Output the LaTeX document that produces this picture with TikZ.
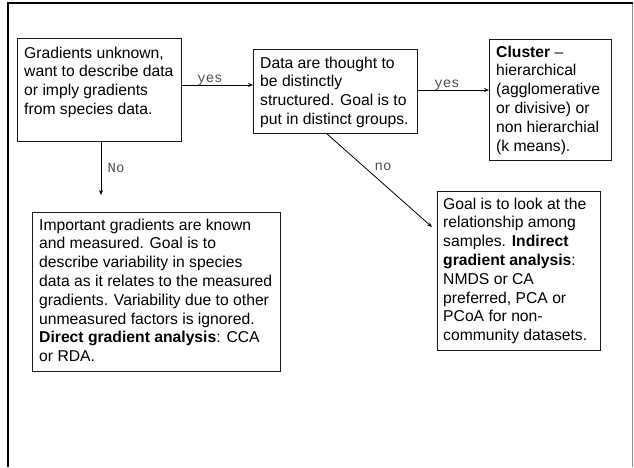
\documentclass[tikz,border=0pt]{standalone}
\usepackage{fontspec}
\setmainfont{Liberation Sans}
\setmonofont{Liberation Mono}
\usetikzlibrary{arrows.meta}
\begin{document}
\begin{tikzpicture}[x=1pt,y=-1pt,
 box/.style={draw=black!90, line width=0.9pt, inner sep=0pt, anchor=north west},
 txt/.style={inner sep=0pt, anchor=north west, align=left, font=\fontsize{15.7}{18.8}\selectfont},
 lab/.style={font=\fontsize{14}{16}\selectfont\ttfamily, text=black!70, inner sep=0pt, anchor=base},
 arr/.style={line width=0.8pt, -{Stealth[length=5pt,width=4pt]}}]
\useasboundingbox (0,0) rectangle (634,467);
\draw[line width=0.6pt, black!45] (632,3) -- (632,467);
\draw[line width=2.5pt] (8,467) -- (8,3) -- (633,3);
% boxes
\node[box, minimum width=164pt, minimum height=103pt] (A) at (17,38) {};
\node[box, minimum width=164pt, minimum height=84pt] (B) at (253,49) {};
\node[box, minimum width=122pt, minimum height=121pt] (C) at (489,39) {};
\node[box, minimum width=163pt, minimum height=159pt] (D) at (437,191) {};
\node[box, minimum width=248pt, minimum height=159pt] (E) at (32,212) {};
% texts
\node[txt] (At) at (24,46.5) {Gradients unknown,\\want to describe data\\or imply gradients\\from species data.};
\node[txt] (Bt) at (260,56.5) {Data are thought to\\be distinctly\\structured. Goal is to\\put in distinct groups.};
\node[txt] (Ct) at (496,45.5) {\textbf{Cluster} --\\hierarchical\\(agglomerative\\or divisive) or\\non hierarchial\\(k means).};
\node[txt] (Dt) at (443,197.5) {Goal is to look at the\\relationship among\\samples. \textbf{Indirect}\\\textbf{gradient analysis}:\\NMDS or CA\\preferred, PCA or\\PCoA for non-\\community datasets.};
\node[txt] (Et) at (39,218.5) {Important gradients are known\\and measured. Goal is to\\describe variability in species\\data as it relates to the measured\\gradients. Variability due to other\\unmeasured factors is ignored.\\\textbf{Direct gradient analysis}: CCA\\or RDA.};
% connectors
\coordinate (ab) at (0,85);
\coordinate (bc) at (0,90);
\coordinate (Aend) at (101,195);
\coordinate (bs) at (327,0);
\coordinate (Bend) at (432,227);
\draw[arr] (A.east |- ab) -- (B.west |- ab);
\draw[arr] (B.east |- bc) -- (C.west |- bc);
\draw[arr] (Aend |- A.south) -- (Aend);
\draw[arr] (B.south -| bs) -- (Bend);
% labels
\node[lab] (l1) at (210,82) {yes};
\node[lab] (l2) at (447,87) {yes};
\node[lab] (l3) at (116,172) {No};
\node[lab] (l4) at (383,170) {no};
\end{tikzpicture}
\end{document}
